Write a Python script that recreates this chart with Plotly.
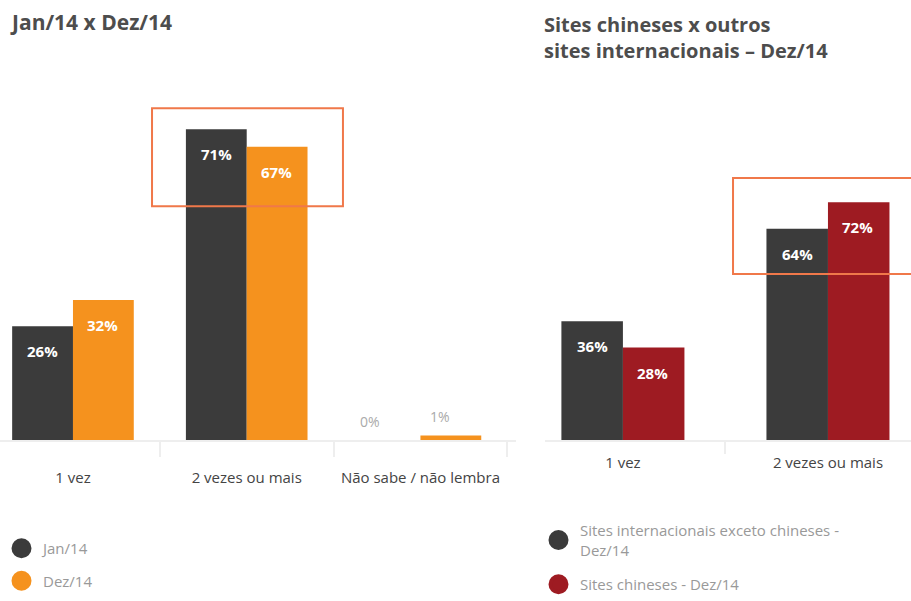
import plotly.graph_objects as go

# ---------------- data ----------------
left_title = "Jan/14 x Dez/14"
right_title = "Sites chineses x outros<br>sites internacionais – Dez/14"

left_categories = ["1 vez", "2 vezes ou mais", "Não sabe / não lembra"]
jan14 = [26, 71, 0]
dez14 = [32, 67, 1]
left_names = ["Jan/14", "Dez/14"]

right_categories = ["1 vez", "2 vezes ou mais"]
intl_except_china = [36, 64]
china_sites = [28, 72]
right_names = ["Sites internacionais exceto chineses -<br>Dez/14", "Sites chineses - Dez/14"]

# ---------------- style ----------------
DARK = "#3b3b3b"
ORANGE = "#f5921e"
RED = "#9e1b22"
BOX = "#f0784a"
FONT = "Open Sans"
W, H = 911, 601

fig = go.Figure()

LW = 0.35   # left bar width (category units)
RW = 0.30   # right bar width

def bar(x, y, col, w, off, xa, ya):
    return go.Bar(x=x, y=y, marker=dict(color=col, line=dict(width=0)), width=w, offset=off,
                  xaxis=xa, yaxis=ya, showlegend=False, hoverinfo="skip")

fig.add_trace(bar(left_categories, jan14, DARK, LW, -LW, "x", "y"))
fig.add_trace(bar(left_categories, dez14, ORANGE, LW, 0, "x", "y"))
fig.add_trace(bar(right_categories, intl_except_china, DARK, RW, -RW, "x2", "y2"))
fig.add_trace(bar(right_categories, china_sites, RED, RW, 0, "x2", "y2"))

# legend entries (circles)
for name, col, grp in [(left_names[0], DARK, "a"), (left_names[1], ORANGE, "b")]:
    fig.add_trace(go.Scatter(x=[None], y=[None], mode="markers", name=name,
                             marker=dict(color=col, size=16, symbol="circle", line=dict(color=col, width=4)),
                             legend="legend", legendgroup=grp, xaxis="x", yaxis="y"))
for name, col, grp in [(right_names[0], DARK, "c"), (right_names[1], RED, "d")]:
    fig.add_trace(go.Scatter(x=[None], y=[None], mode="markers", name=name,
                             marker=dict(color=col, size=16, symbol="circle", line=dict(color=col, width=4)),
                             legend="legend2", legendgroup=grp, xaxis="x2", yaxis="y2"))

annotations = []

def bar_labels(cats, vals, xref, yref, xoff, extra_shift=None):
    for i, (c, v) in enumerate(zip(cats, vals)):
        inside = v >= 5
        xs = xoff + (extra_shift[i] if extra_shift else 0)
        annotations.append(dict(
            x=c, y=v, xref=xref, yref=yref, xshift=xs,
            yshift=-25 if inside else 19,
            text=f"<b>{v}%</b>" if inside else f"{v}%",
            showarrow=False,
            font=dict(family=FONT, size=15 if inside else 14, color="white" if inside else "#aaaaaa"),
        ))

bar_labels(left_categories, jan14, "x", "y", -30, [0, 0, -20])
bar_labels(left_categories, dez14, "x", "y", 30, [0, 0, -10])
bar_labels(right_categories, intl_except_china, "x2", "y2", -30)
bar_labels(right_categories, china_sites, "x2", "y2", 30)

annotations.append(dict(x=8 / W, y=1 - 22 / H, xref="paper", yref="paper", xanchor="left",
                        yanchor="middle", text=f"<b>{left_title}</b>", showarrow=False, align="left",
                        font=dict(family=FONT, size=21, color="#4d4d4d")))
annotations.append(dict(x=542 / W, y=1 - 38 / H, xref="paper", yref="paper", xanchor="left",
                        yanchor="middle", text=f"<b>{right_title}</b>", showarrow=False, align="left",
                        font=dict(family=FONT, size=20, color="#4d4d4d")))

shapes = [
    dict(type="rect", xref="x", yref="y", x0=0.455, x1=1.554, y0=53.4, y1=75.8,
         line=dict(color=BOX, width=2), fillcolor="rgba(0,0,0,0)", layer="above"),
    dict(type="rect", xref="x2", yref="y2", x0=0.537, x1=1.6, y0=50.3, y1=79.4,
         line=dict(color=BOX, width=2), fillcolor="rgba(0,0,0,0)", layer="above"),
]

ydom = [161 / H, 1]
axis_common = dict(type="category", tickson="boundaries", ticks="outside", ticklen=15,
                   tickcolor="#eeeeee", tickwidth=2, showline=True, linecolor="#eeeeee",
                   linewidth=2, showgrid=False, zeroline=False,
                   tickfont=dict(family=FONT, size=15, color="#444444"))

fig.update_layout(
    width=W, height=H, autosize=False,
    margin=dict(l=0, r=0, t=0, b=0),
    paper_bgcolor="white", plot_bgcolor="white",
    xaxis=dict(domain=[0, 516 / W], range=[-0.42, 2.55], ticklabelstandoff=23, **axis_common),
    xaxis2=dict(domain=[545 / W, 1], range=[-0.38, 1.405], anchor="y2", ticklabelstandoff=8,
                **{**axis_common, "ticklen": 12}),
    yaxis=dict(domain=ydom, range=[0, 100.5], visible=False),
    yaxis2=dict(domain=ydom, range=[0, 133.3], visible=False, anchor="x2"),
    legend=dict(x=0, y=4 / H, xanchor="left", yanchor="bottom", tracegroupgap=10, itemwidth=33,
                font=dict(family=FONT, size=15, color="#999999"), bgcolor="rgba(0,0,0,0)"),
    legend2=dict(x=537 / W, y=0, xanchor="left", yanchor="bottom", tracegroupgap=12, itemwidth=33,
                 font=dict(family=FONT, size=15, color="#999999"), bgcolor="rgba(0,0,0,0)"),
    annotations=annotations,
    shapes=shapes,
)

fig.write_html("out.html")
